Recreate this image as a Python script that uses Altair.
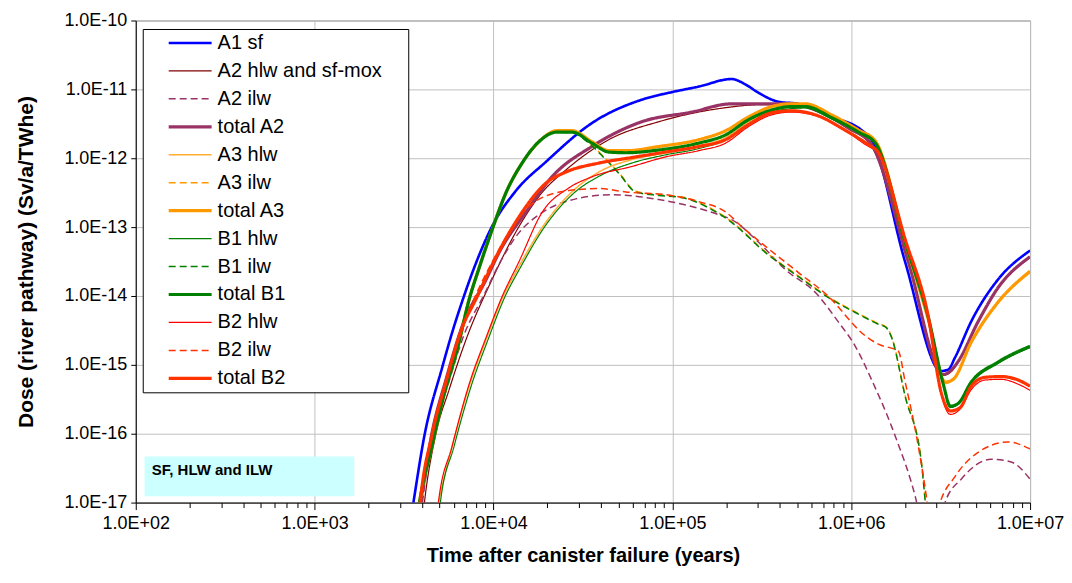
import altair as alt
import pandas as pd

SERIES = ["A1 sf", "A2 hlw and sf-mox", "A2 ilw", "total A2", "A3 hlw", "A3 ilw", "total A3",
          "B1 hlw", "B1 ilw", "total B1", "B2 hlw", "B2 ilw", "total B2"]
COLORS = ["#0000FF", "#800000", "#993366", "#993366", "#FFAD33", "#FF9900", "#FF9900",
          "#008000", "#008000", "#008000", "#FF0000", "#FF3300", "#FF3300"]
DASHES = [[1, 0], [1, 0], [7, 4], [1, 0], [1, 0], [7, 4], [1, 0],
          [1, 0], [7, 4], [1, 0], [1, 0], [7, 4], [1, 0]]
WIDTHS = [2.6, 1.2, 1.5, 3.2, 1.5, 1.5, 3.2, 1.2, 1.5, 3.2, 1.2, 1.5, 3.2]

# values, as log10(years) and log10(dose)
a1_sf_t = [3.540, 3.551, 3.613, 3.713, 3.769, 3.830, 3.892, 3.992, 4.126, 4.294, 4.550, 4.829, 4.997, 5.147,
           5.331, 5.410, 5.482, 5.594, 5.705, 5.890, 6.057, 6.113, 6.302, 6.503, 6.542, 6.581, 6.671, 6.821, 7.0]
a1_sf_d = [-17.20, -17.02, -16.04, -15.04, -14.53, -14.04, -13.59, -12.99, -12.47, -12.05, -11.49, -11.15, -11.04,
           -10.96, -10.85, -10.93, -11.05, -11.18, -11.21, -11.40, -11.59, -11.73, -13.51, -15.09, -15.07, -14.89,
           -14.37, -13.76, -13.34]

a2_hlw_t = [3.607, 3.613, 3.680, 3.752, 3.847, 3.992, 4.143, 4.271, 4.405, 4.645, 4.924, 5.259, 5.521, 5.666,
            5.800, 5.984, 6.113, 6.319, 6.515, 6.554, 6.598, 6.710, 6.821, 7.0]
a2_hlw_d = [-17.16, -17.02, -15.98, -15.36, -14.63, -13.76, -12.99, -12.50, -12.17, -11.73, -11.47, -11.28, -11.22,
            -11.22, -11.31, -11.57, -11.82, -13.51, -15.15, -15.11, -14.96, -14.38, -13.89, -13.44]

a2_ilw_t = [3.596, 3.602, 3.669, 3.747, 3.836, 3.948, 4.031, 4.143, 4.254, 4.461, 4.662, 4.924, 5.108, 5.259,
            5.331, 5.482, 5.633, 5.800, 5.929, 6.023, 6.113, 6.247, 6.358, 6.450, 6.526, 6.615, 6.782, 6.894, 7.0]
a2_ilw_d = [-17.16, -17.02, -15.98, -15.28, -14.56, -13.98, -13.54, -13.08, -12.82, -12.59, -12.53, -12.60, -12.70,
            -12.82, -12.89, -13.22, -13.62, -13.95, -14.38, -14.73, -15.21, -16.04, -16.91, -18.00, -16.99, -16.66,
            -16.37, -16.41, -16.66]

total_a2_t = [3.579, 3.590, 3.657, 3.735, 3.825, 3.959, 4.031, 4.182, 4.327, 4.550, 4.829, 5.108, 5.331, 5.521,
              5.666, 5.800, 5.984, 6.113, 6.319, 6.515, 6.554, 6.598, 6.710, 6.821, 7.0]
total_a2_d = [-17.16, -17.02, -15.98, -15.21, -14.44, -13.76, -13.37, -12.78, -12.27, -11.83, -11.47, -11.33, -11.21,
              -11.21, -11.21, -11.30, -11.56, -11.80, -13.50, -15.14, -15.09, -14.95, -14.37, -13.88, -13.43]

a3_hlw_t = [3.680, 3.691, 3.769, 3.864, 3.959, 4.048, 4.143, 4.271, 4.422, 4.589, 4.773, 4.963, 5.147, 5.298,
            5.426, 5.555, 5.666, 5.744, 5.890, 6.040, 6.135, 6.302, 6.431, 6.526, 6.570, 6.671, 6.821, 7.0]
a3_hlw_d = [-17.16, -17.02, -16.18, -15.31, -14.63, -14.04, -13.57, -13.01, -12.53, -12.20, -12.02, -11.92, -11.82,
            -11.70, -11.47, -11.30, -11.24, -11.24, -11.40, -11.60, -11.76, -13.24, -14.36, -15.27, -15.22, -14.69,
            -14.10, -13.66]

a3_ilw_t = [3.579, 3.585, 3.652, 3.724, 3.797, 3.864, 3.920, 3.992, 4.070, 4.160, 4.254, 4.355, 4.439, 4.533,
            4.628, 4.701, 4.796, 4.924, 5.052, 5.203, 5.331, 5.521, 5.705, 5.890, 6.023, 6.152, 6.196, 6.224,
            6.302, 6.392, 6.414, 6.442]
a3_ilw_d = [-17.12, -17.02, -16.22, -15.43, -14.78, -14.05, -13.59, -13.04, -12.50, -12.07, -11.76, -11.60, -11.61,
            -11.77, -12.01, -12.21, -12.48, -12.53, -12.56, -12.71, -12.92, -13.36, -13.71, -14.04, -14.23, -14.40,
            -14.45, -14.58, -15.45, -16.40, -16.98, -17.82]

total_a3_t = [3.579, 3.585, 3.652, 3.724, 3.797, 3.864, 3.920, 3.992, 4.070, 4.160, 4.254, 4.355, 4.439, 4.550,
              4.645, 4.740, 4.924, 5.147, 5.298, 5.426, 5.555, 5.666, 5.744, 5.890, 6.040, 6.135, 6.302, 6.431,
              6.526, 6.570, 6.671, 6.821, 7.0]
total_a3_d = [-17.12, -17.02, -16.22, -15.43, -14.78, -14.05, -13.59, -13.04, -12.50, -12.07, -11.76, -11.60, -11.60,
              -11.76, -11.89, -11.89, -11.83, -11.73, -11.60, -11.40, -11.25, -11.21, -11.21, -11.37, -11.59, -11.75,
              -13.22, -14.34, -15.25, -15.21, -14.67, -14.09, -13.64]

b1_hlw_t = [3.696, 3.702, 3.780, 3.875, 3.970, 4.059, 4.154, 4.282, 4.439, 4.606, 4.773, 4.963, 5.147, 5.298,
            5.426, 5.555, 5.666, 5.744, 5.890, 6.040, 6.135, 6.302, 6.431, 6.515, 6.554, 6.598, 6.671, 6.821, 7.0]
b1_hlw_d = [-17.16, -17.02, -16.18, -15.31, -14.63, -14.04, -13.57, -13.01, -12.53, -12.24, -12.07, -11.95, -11.86,
            -11.73, -11.50, -11.33, -11.28, -11.27, -11.43, -11.63, -11.79, -13.24, -14.33, -15.30, -15.62, -15.57,
            -15.27, -14.98, -14.75]

b1_ilw_t = [3.579, 3.585, 3.652, 3.724, 3.797, 3.864, 3.920, 3.992, 4.070, 4.160, 4.254, 4.355, 4.439, 4.533,
            4.628, 4.701, 4.796, 4.924, 5.052, 5.203, 5.331, 5.521, 5.705, 5.890, 6.023, 6.152, 6.196, 6.224,
            6.302, 6.392, 6.414, 6.442]
b1_ilw_d = [-17.12, -17.02, -16.22, -15.43, -14.78, -14.05, -13.59, -13.04, -12.50, -12.07, -11.76, -11.62, -11.63,
            -11.78, -12.02, -12.22, -12.49, -12.54, -12.57, -12.72, -12.93, -13.37, -13.72, -14.05, -14.24, -14.41,
            -14.46, -14.59, -15.46, -16.41, -16.99, -17.82]

total_b1_t = [3.579, 3.585, 3.652, 3.724, 3.797, 3.864, 3.920, 3.992, 4.070, 4.160, 4.254, 4.355, 4.439, 4.550,
              4.645, 4.740, 4.924, 5.147, 5.298, 5.426, 5.555, 5.666, 5.744, 5.890, 6.040, 6.135, 6.302, 6.431,
              6.515, 6.554, 6.598, 6.671, 6.821, 7.0]
total_b1_d = [-17.12, -17.02, -16.22, -15.43, -14.78, -14.05, -13.59, -13.04, -12.50, -12.07, -11.76, -11.62, -11.62,
              -11.78, -11.91, -11.92, -11.88, -11.78, -11.66, -11.44, -11.30, -11.25, -11.25, -11.41, -11.62, -11.78,
              -13.22, -14.31, -15.28, -15.60, -15.56, -15.25, -14.96, -14.73]

b2_hlw_t = [3.685, 3.691, 3.769, 3.864, 3.959, 4.048, 4.143, 4.271, 4.422, 4.550, 4.773, 4.963, 5.147, 5.298,
            5.426, 5.555, 5.666, 5.800, 5.984, 6.113, 6.141, 6.302, 6.431, 6.503, 6.554, 6.609, 6.671, 6.749,
            6.838, 6.933, 7.0]
b2_hlw_d = [-17.16, -17.02, -16.18, -15.28, -14.60, -14.01, -13.50, -12.79, -12.43, -12.27, -12.12, -11.98, -11.89,
            -11.78, -11.54, -11.37, -11.33, -11.38, -11.63, -11.85, -11.88, -13.21, -14.31, -15.43, -15.72, -15.64,
            -15.36, -15.22, -15.21, -15.28, -15.37]

b2_ilw_t = [3.585, 3.590, 3.657, 3.735, 3.825, 3.920, 4.015, 4.087, 4.238, 4.422, 4.589, 4.740, 4.963, 5.147,
            5.298, 5.387, 5.521, 5.705, 5.890, 6.001, 6.040, 6.152, 6.263, 6.302, 6.375, 6.420, 6.453, 6.487,
            6.581, 6.710, 6.877, 7.0]
b2_ilw_d = [-17.16, -17.02, -16.01, -15.24, -14.46, -13.88, -13.40, -13.07, -12.62, -12.47, -12.44, -12.49, -12.53,
            -12.63, -12.78, -12.99, -13.28, -13.66, -14.05, -14.38, -14.49, -14.70, -14.80, -15.25, -16.18, -16.91,
            -17.60, -17.09, -16.62, -16.27, -16.12, -16.22]

total_b2_t = [3.585, 3.590, 3.657, 3.735, 3.825, 3.903, 4.015, 4.143, 4.294, 4.405, 4.589, 4.773, 4.963, 5.147,
              5.298, 5.426, 5.555, 5.666, 5.800, 5.984, 6.113, 6.141, 6.302, 6.431, 6.503, 6.554, 6.609, 6.671,
              6.749, 6.838, 6.933, 7.0]
total_b2_d = [-17.16, -17.02, -16.01, -15.24, -14.46, -14.04, -13.43, -12.85, -12.36, -12.20, -12.07, -11.99, -11.91,
              -11.83, -11.73, -11.51, -11.34, -11.31, -11.37, -11.62, -11.83, -11.88, -13.18, -14.30, -15.40, -15.67,
              -15.62, -15.31, -15.18, -15.17, -15.22, -15.31]

T_LISTS = [a1_sf_t, a2_hlw_t, a2_ilw_t, total_a2_t, a3_hlw_t, a3_ilw_t, total_a3_t,
           b1_hlw_t, b1_ilw_t, total_b1_t, b2_hlw_t, b2_ilw_t, total_b2_t]
D_LISTS = [a1_sf_d, a2_hlw_d, a2_ilw_d, total_a2_d, a3_hlw_d, a3_ilw_d, total_a3_d,
           b1_hlw_d, b1_ilw_d, total_b1_d, b2_hlw_d, b2_ilw_d, total_b2_d]

DECADES_X = [1e2, 1e3, 1e4, 1e5, 1e6, 1e7]
MINOR_MULT = [2, 3, 4, 5, 6, 7, 8, 9]
X_TICKS = sorted(DECADES_X + [m * d for d in DECADES_X[:-1] for m in MINOR_MULT])
Y_TICKS = [1e-17, 1e-16, 1e-15, 1e-14, 1e-13, 1e-12, 1e-11, 1e-10]

NOTE_TEXT = ["SF, HLW and ILW"]
NOTE_BOX = {"x": [112.0], "x2": [1667.0], "y": [4.68e-17], "y2": [1.24e-17]}
NOTE_POS = {"x": [123.0], "y": [3.0e-17]}

rows = []
for name, ts, ds in zip(SERIES, T_LISTS, D_LISTS):
    assert len(ts) == len(ds), name
    for t, d in zip(ts, ds):
        rows.append({"series": name, "years": 10 ** t, "dose": 10 ** d})
df = pd.DataFrame(rows)

FONT = "Liberation Sans"
LOGV = "log(datum.value)/LN10"
IS_DEC = f"abs({LOGV} - round({LOGV})) < 0.001"
LABEL = (f"{IS_DEC} ? ('1.0E' + (round({LOGV}) < 0 ? '-' : '+') + "
         f"(abs(round({LOGV})) < 10 ? '0' : '') + abs(round({LOGV}))) : ''")

x_axis = alt.Axis(values=X_TICKS, labelExpr=LABEL, title="Time after canister failure (years)",
                  grid=True, gridColor="#C0C0C0",
                  gridOpacity={"condition": {"test": IS_DEC, "value": 1}, "value": 0},
                  tickSize={"condition": {"test": IS_DEC, "value": 7}, "value": 5},
                  tickColor="black", domainColor="black", labelFont=FONT, labelFontSize=18,
                  labelColor="black", labelPadding=5, labelOverlap=False, labelFlush=False,
                  titleFont=FONT, titleFontSize=20, titleFontWeight="bold", titleColor="black",
                  titlePadding=13)
y_axis = alt.Axis(values=Y_TICKS, labelExpr=LABEL, title="Dose (river pathway) (Sv/a/TWhe)",
                  grid=True, gridColor="#C0C0C0", tickSize=5, tickColor="black", domainColor="black",
                  labelFont=FONT, labelFontSize=18, labelColor="black", labelPadding=4,
                  labelOverlap=False, labelFlush=False, titleFont=FONT, titleFontSize=21,
                  titleFontWeight="bold", titleColor="black", titlePadding=27)

xs = alt.Scale(type="log", domain=[1e2, 1e7], nice=False)
ys = alt.Scale(type="log", domain=[1e-17, 1e-10], nice=False)

leg = alt.Legend(title=None, orient="none", legendX=7, legendY=8.5,
                 labelExpr="datum.label == 'A2 hlw and sf-mox' ? datum.label + '\u00a0\u00a0\u00a0\u00a0\u200b' : datum.label")

enc = dict(
    x=alt.X("years:Q", scale=xs, axis=x_axis),
    y=alt.Y("dose:Q", scale=ys, axis=y_axis),
    color=alt.Color("series:N", scale=alt.Scale(domain=SERIES, range=COLORS), legend=leg),
    strokeDash=alt.StrokeDash("series:N", scale=alt.Scale(domain=SERIES, range=DASHES), legend=leg),
    strokeWidth=alt.StrokeWidth("series:N", scale=alt.Scale(type="ordinal", domain=SERIES, range=WIDTHS),
                                legend=leg),
)

box = alt.Chart(pd.DataFrame(NOTE_BOX)).mark_rect(fill="#CCFFFF").encode(
    x=alt.X("x:Q", scale=xs), x2="x2:Q", y=alt.Y("y:Q", scale=ys), y2="y2:Q")
note = alt.Chart(pd.DataFrame({**NOTE_POS, "text": NOTE_TEXT})).mark_text(
    align="left", baseline="middle", font=FONT, fontSize=15, fontWeight="bold",
    color="black").encode(
    x=alt.X("x:Q", scale=xs), y=alt.Y("y:Q", scale=ys), text="text:N")

layers = [box, note]
for s in SERIES:
    layers.append(
        alt.Chart(df).transform_filter(alt.datum.series == s)
        .mark_line(interpolate="monotone", clip=True)
        .encode(**enc)
    )

chart = (
    alt.layer(*layers)
    .properties(width=896, height=483, autosize=alt.AutoSizeParams(type="none"),
                padding={"left": 128, "top": 12, "right": 34, "bottom": 66})
    .configure_view(stroke="#808080", strokeWidth=1)
    .configure_legend(fillColor="white", strokeColor="black", padding=4, symbolType="stroke",
                      symbolSize=1849, symbolOffset=20, labelFont=FONT, labelFontSize=20,
                      labelColor="black", labelLimit=400, labelOffset=4, rowPadding=8,
                      clipHeight=20, cornerRadius=0)
)

chart.save("out.html", embed_options={"renderer": "svg", "actions": False})
